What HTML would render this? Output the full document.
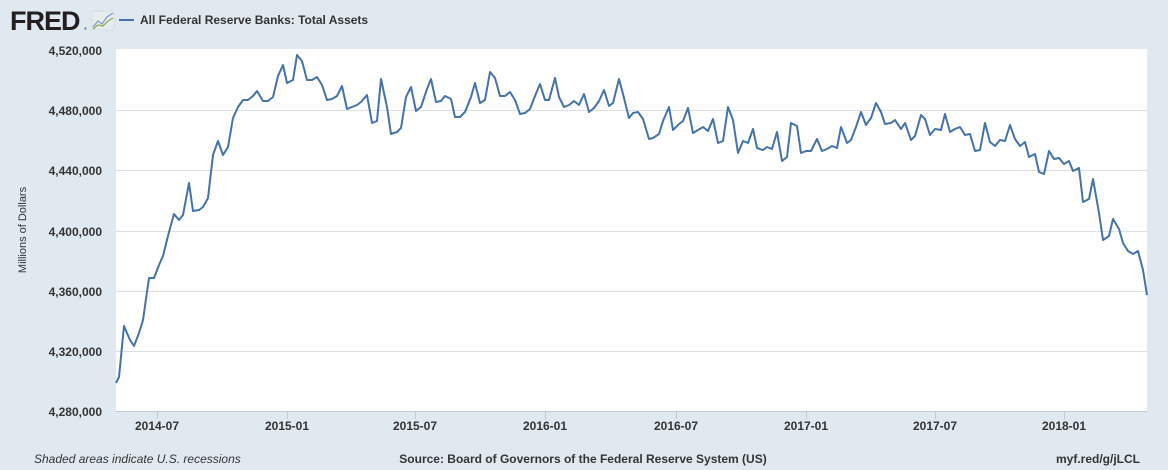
<!DOCTYPE html>
<html><head><meta charset="utf-8"><style>
body{margin:0;background:#e1e9f0;}
svg{display:block;font-family:"Liberation Sans",Arial,sans-serif;}
</style></head><body>
<svg width="1168" height="470" viewBox="0 0 1168 470">
<rect width="1168" height="470" fill="#e1e9f0"/>
<text x="10" y="30" font-size="27" font-weight="bold" fill="#231f20" letter-spacing="-1">FRED</text>
<text x="84" y="30" font-size="4" fill="#231f20">®</text>
<rect x="92" y="11" width="22" height="19" rx="2" fill="#e8ecef" stroke="#c8d0d6" stroke-width="0.5"/>
<polyline points="93,27 98,21 102,24 107,17 113,13" fill="none" stroke="#7a9fcf" stroke-width="1.3"/>
<polyline points="93,29 98,25 103,26 108,21 113,18" fill="none" stroke="#8ab04c" stroke-width="1.3"/>
<line x1="119" y1="20" x2="134" y2="20" stroke="#4572a7" stroke-width="2"/>
<text x="140" y="24" font-size="12" font-weight="bold" fill="#333">All Federal Reserve Banks: Total Assets</text>
<rect x="116" y="49" width="1031" height="362" fill="#fff"/>
<g stroke="#dcdfe3" stroke-width="1">
<line x1="116" y1="110.5" x2="1147" y2="110.5"/>
<line x1="116" y1="170.5" x2="1147" y2="170.5"/>
<line x1="116" y1="231.5" x2="1147" y2="231.5"/>
<line x1="116" y1="291.5" x2="1147" y2="291.5"/>
<line x1="116" y1="351.5" x2="1147" y2="351.5"/>
</g>
<line x1="116" y1="411.5" x2="1147" y2="411.5" stroke="#c0cad5"/>
<g stroke="#c0cad5">
<line x1="157.5" y1="411" x2="157.5" y2="419"/><line x1="287.5" y1="411" x2="287.5" y2="419"/>
<line x1="415.5" y1="411" x2="415.5" y2="419"/><line x1="545.5" y1="411" x2="545.5" y2="419"/>
<line x1="676.5" y1="411" x2="676.5" y2="419"/><line x1="806.5" y1="411" x2="806.5" y2="419"/>
<line x1="935.5" y1="411" x2="935.5" y2="419"/><line x1="1064.5" y1="411" x2="1064.5" y2="419"/>
</g>
<g font-size="12" font-weight="bold" fill="#333" text-anchor="end">
<text x="102" y="55">4,520,000</text><text x="102" y="115">4,480,000</text>
<text x="102" y="175">4,440,000</text><text x="102" y="236">4,400,000</text>
<text x="102" y="296">4,360,000</text><text x="102" y="356">4,320,000</text>
<text x="102" y="416">4,280,000</text>
</g>
<text transform="translate(26,230) rotate(-90)" font-size="11" fill="#333" text-anchor="middle">Millions of Dollars</text>
<g font-size="12" font-weight="bold" fill="#333" text-anchor="middle">
<text x="157" y="430">2014-07</text><text x="287" y="430">2015-01</text>
<text x="415" y="430">2015-07</text><text x="545" y="430">2016-01</text>
<text x="676" y="430">2016-07</text><text x="806" y="430">2017-01</text>
<text x="935" y="430">2017-07</text><text x="1064" y="430">2018-01</text>
</g>
<polyline fill="none" stroke="#4572a7" stroke-width="2" stroke-linejoin="round" points="116,383 119,377 124,326 130,340 134,346 139,333 143,320 149,278 154,278 159,265 163,256 169,232 174,214 179,220 183,215 189,183 193,211 199,210 203,207 208,198 213,155 218,141 223,155 228,147 233,118 238,107 243,100 248,100 253,96 257,91 263,101 268,101 273,97 278,76 283,65 287,83 293,80 297,55 302,61 307,80 312,80 317,77 322,85 327,100 332,99 337,96 342,86 347,109 352,107 357,105 361,102 367,95 372,123 377,121 381,79 387,107 391,134 397,132 401,128 406,97 411,87 416,111 421,107 427,89 431,79 436,102 441,101 445,96 451,99 455,117 460,117 465,112 471,97 475,83 480,103 485,100 490,72 495,78 500,96 505,96 510,92 515,100 520,114 525,113 530,109 535,96 540,84 545,100 549,100 555,78 559,97 564,107 569,105 574,101 579,105 584,94 589,112 594,108 599,101 604,90 609,106 613,103 619,79 623,94 629,118 633,113 638,112 643,119 649,139 653,138 659,134 663,121 669,107 673,130 679,124 683,121 688,108 693,133 698,130 703,127 708,131 713,119 718,143 723,141 728,107 733,120 738,153 743,141 748,143 753,129 757,148 763,150 767,147 772,149 777,132 782,161 787,157 791,123 797,126 801,153 806,151 811,151 817,139 822,151 827,149 832,146 837,148 841,127 847,143 851,140 856,127 861,112 866,125 871,118 876,103 881,112 885,124 891,123 895,120 901,129 905,123 911,140 915,136 921,115 925,119 930,135 935,129 941,130 945,114 950,132 955,129 960,127 965,135 970,134 975,151 980,150 985,123 990,142 995,146 1000,140 1005,141 1010,125 1015,139 1020,146 1025,142 1029,157 1035,154 1039,172 1044,174 1049,151 1054,159 1059,158 1064,164 1069,161 1073,171 1079,168 1083,202 1089,199 1093,179 1099,213 1103,240 1109,236 1113,219 1119,229 1123,243 1128,251 1133,254 1138,251 1143,270 1147,295"/>
<text x="34" y="463" font-size="12" font-style="italic" fill="#333">Shaded areas indicate U.S. recessions</text>
<text x="583" y="463" font-size="12" font-weight="bold" fill="#333" text-anchor="middle">Source: Board of Governors of the Federal Reserve System (US)</text>
<text x="1140" y="463" font-size="12" font-weight="bold" fill="#333" text-anchor="end">myf.red/g/jLCL</text>
</svg>
</body></html>
